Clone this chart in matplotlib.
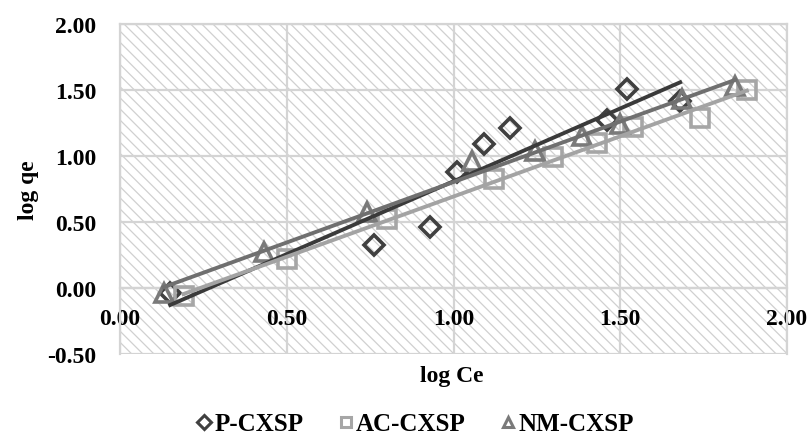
import numpy as np
import matplotlib.pyplot as plt
from matplotlib.lines import Line2D

# values
p_x = [0.15, 0.76, 0.93, 1.01, 1.09, 1.17, 1.46, 1.52, 1.68]
p_y = [-0.04, 0.33, 0.46, 0.88, 1.09, 1.21, 1.27, 1.51, 1.42]

ac_x = [0.19, 0.50, 0.80, 1.12, 1.30, 1.43, 1.54, 1.74, 1.88]
ac_y = [-0.06, 0.22, 0.52, 0.83, 0.99, 1.10, 1.22, 1.29, 1.50]

nm_x = [0.13, 0.43, 0.74, 1.055, 1.245, 1.385, 1.50, 1.685, 1.845]
nm_y = [-0.04, 0.27, 0.58, 0.96, 1.04, 1.15, 1.24, 1.43, 1.53]

series = [
    ('P-CXSP', p_x, p_y, 'D', '#404040', '#3a3a3a', 10),
    ('AC-CXSP', ac_x, ac_y, 's', '#a6a6a6', '#a3a3a3', 13),
    ('NM-CXSP', nm_x, nm_y, '^', '#7a7a7a', '#6f6f6f', 13),
]

plt.rcParams['font.family'] = ['Liberation Serif', 'DejaVu Serif']
plt.rcParams['font.weight'] = 'bold'
plt.rcParams['hatch.linewidth'] = 0.9

fig = plt.figure(figsize=(8.12, 4.39), dpi=100)
ax = fig.add_axes([0.148, 0.191, 0.821, 0.752])

ax.set_xlim(0, 2)
ax.set_ylim(-0.5, 2)
ax.add_patch(plt.Rectangle((0, 0), 1, 1, transform=ax.transAxes, facecolor='white',
                           edgecolor='#d0d0d0', linewidth=0, hatch='\\\\\\', zorder=0))

ax.set_xticks(np.arange(0, 2.01, 0.5))
ax.set_yticks(np.arange(-0.5, 2.01, 0.5))
ax.xaxis.set_major_formatter(lambda v, pos: f'{v:.2f}')
ax.yaxis.set_major_formatter(lambda v, pos: f'{v:.2f}')
ax.grid(True, color='#d4d4d4', linewidth=1.6, zorder=1)
ax.set_axisbelow(True)

for sp in ax.spines.values():
    sp.set_color('#d4d4d4')
    sp.set_linewidth(1.6)
ax.spines['bottom'].set_position(('data', 0))
ax.tick_params(length=0, labelsize=17)
ax.tick_params(axis='y', pad=17)
ax.tick_params(axis='x', pad=14)

handles = []
for name, xs, ys, mk, mc, lc, ms in series:
    ax.plot(xs, ys, linestyle='none', marker=mk, markersize=ms, markerfacecolor='none',
            markeredgecolor=mc, markeredgewidth=2.6, zorder=3)
    k, b = np.polyfit(xs, ys, 1)
    xx = np.array([min(xs), max(xs)])
    ax.plot(xx, k * xx + b, color=lc, linewidth=2.8, zorder=4)
    handles.append(Line2D([], [], linestyle='none', marker=mk, markersize=7,
                          markerfacecolor='none', markeredgecolor=mc, markeredgewidth=2.2,
                          label=name))

ax.set_ylabel('log qe', fontsize=17, fontweight='bold', labelpad=6)
fig.text(0.556, 0.142, 'log Ce', ha='center', va='center', fontsize=17, fontweight='bold')

fig.legend(handles=handles, loc='center', bbox_to_anchor=(0.51, 0.032), ncol=3,
           frameon=False, fontsize=18, handletextpad=0.0, columnspacing=1.3,
           handlelength=0.8)

fig.savefig('out.png', dpi=100, facecolor='white')
